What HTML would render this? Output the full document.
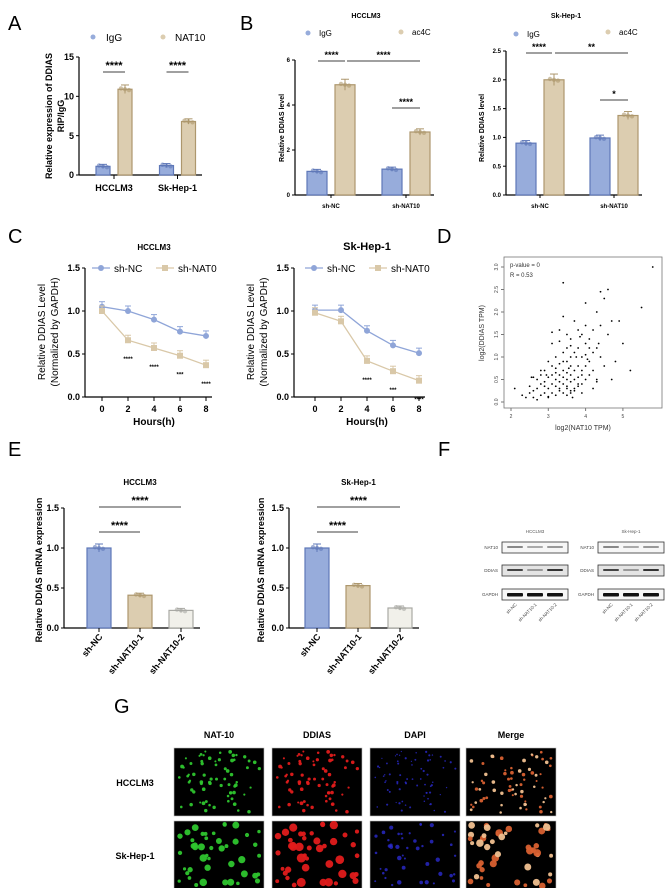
<!DOCTYPE html>
<html><head><meta charset="utf-8"><style>
body{margin:0;background:#fff}
svg{display:block;font-family:"Liberation Sans",Arial,sans-serif}
</style></head><body>
<svg id="fig" width="666" height="888" viewBox="0 0 666 888" xmlns="http://www.w3.org/2000/svg">
<rect width="666" height="888" fill="#fff"/>
<g font-size="20" fill="#000">
<text x="8" y="30">A</text>
<text x="240" y="30">B</text>
<text x="8" y="243">C</text>
<text x="437" y="243">D</text>
<text x="8" y="456">E</text>
<text x="438" y="456">F</text>
<text x="114" y="713">G</text>
</g>
<g id="root"></g>
</svg>
<script>
// ---- data ----
const aCats=['HCCLM3','Sk-Hep-1'];
const aIgG=[1.1,1.2];
const aNAT10=[10.9,6.8];
const aTicks=[0,5,10,15];
const bCats=['sh-NC','sh-NAT10'];
const bHIgG=[1.05,1.15];
const bHac4C=[4.9,2.8];
const bHTicks=[0,2,4,6];
const bSIgG=[0.9,0.99];
const bSac4C=[2.0,1.38];
const bSTicks=[0.0,0.5,1.0,1.5,2.0,2.5];
const cHours=[0,2,4,6,8];
const cHNC=[1.05,1.0,0.9,0.76,0.71];
const cHNAT=[1.0,0.66,0.57,0.48,0.37];
const cSNC=[1.01,1.01,0.77,0.60,0.51];
const cSNAT=[0.98,0.88,0.42,0.30,0.19];
const cTicks=[0.0,0.5,1.0,1.5];
const cHStars=['','****','****','***','****'];
const cSStars=['','','****','***','****'];
const dX=[2.1,2.3,2.4,2.5,2.5,2.6,2.6,2.7,2.7,2.8,2.8,2.8,2.9,2.9,2.9,3.0,3.0,3.0,3.0,3.1,3.1,3.1,3.1,3.2,3.2,3.2,3.2,3.2,3.3,3.3,3.3,3.3,3.3,3.4,3.4,3.4,3.4,3.4,3.4,3.5,3.5,3.5,3.5,3.5,3.5,3.6,3.6,3.6,3.6,3.6,3.6,3.7,3.7,3.7,3.7,3.7,3.8,3.8,3.8,3.8,3.8,3.9,3.9,3.9,3.9,4.0,4.0,4.0,4.0,4.1,4.1,4.1,4.2,4.2,4.2,4.3,4.3,4.3,4.4,4.4,4.5,4.5,4.6,4.6,4.7,4.8,4.9,5.0,5.2,5.5,5.8,2.6,2.9,3.1,3.3,3.5,3.7,3.9,4.1,3.2,3.4,3.6,3.8,4.0,3.0,2.7,3.5,3.9,4.4,4.2,3.6,3.3,3.1,2.8,4.0,4.3,4.7,3.4,2.95,3.55,3.75,4.05,4.35,2.55,3.85,3.65];
const dY=[0.3,0.15,0.1,0.2,0.35,0.1,0.25,0.3,0.5,0.15,0.4,0.6,0.2,0.35,0.7,0.1,0.3,0.55,0.9,0.2,0.4,0.6,1.3,0.15,0.35,0.5,0.75,1.0,0.25,0.45,0.6,0.85,1.6,0.2,0.4,0.55,0.7,1.1,2.65,0.3,0.5,0.65,0.9,1.2,1.5,0.25,0.45,0.6,0.8,1.0,1.4,0.3,0.5,0.7,1.1,1.8,0.35,0.55,0.8,1.2,1.6,0.4,0.7,1.0,1.5,0.5,0.8,1.3,1.7,0.6,0.9,1.4,0.7,1.1,1.6,0.5,1.2,2.0,1.0,2.45,0.8,2.3,1.5,2.5,1.8,0.9,1.8,1.3,0.7,2.1,3.0,0.55,0.45,0.8,0.3,0.35,0.25,0.6,1.2,0.65,0.9,1.25,0.4,1.05,0.12,0.05,0.15,0.2,1.7,0.3,0.2,1.35,1.55,0.7,2.2,0.45,0.5,1.9,0.6,0.75,1.0,0.95,1.3,0.55,1.45,0.1];
const dXTicks=[2,3,4,5];
const dYTicks=[0.0,0.5,1.0,1.5,2.0,2.5,3.0];
const eCats=['sh-NC','sh-NAT10-1','sh-NAT10-2'];
const eH=[1.0,0.41,0.22];
const eS=[1.0,0.53,0.25];
const eTicks=[0.0,0.5,1.0,1.5];

const NS='http://www.w3.org/2000/svg';
const root=document.getElementById('root');
function mk(tag,attrs,parent,text){const e=document.createElementNS(NS,tag);for(const k in attrs)e.setAttribute(k,attrs[k]);if(text!==undefined)e.textContent=text;(parent||root).appendChild(e);return e;}
const BLUE='#97acdb',BLUES='#5f78b8',TAN='#dccdb0',TANS='#ad976d',LIGHT='#f1f0ea',LIGHTS='#a9a9a4';

function yAxis(g,x,y0,y1,ticks,sc,fs,fmt){
  let l=mk('line',{x1:x,y1:y0,x2:x,y2:y1,stroke:'#000','stroke-width':1.2},g);
  
  
  ticks.forEach(t=>{const y=sc(t);
    mk('line',{x1:x-3,y1:y,x2:x,y2:y,stroke:'#000','stroke-width':1},g);
    let tx=mk('text',{x:x-5,y:y+fs*0.35,'text-anchor':'end','font-size':fs,'font-weight':'bold'},g,fmt(t));
    
    
  });
}
function bar(g,cx,w,v,sc,fill,stroke,name){
  const y0=sc(0),y=sc(v);
  let r=mk('rect',{x:cx-w/2,y:y,width:w,height:y0-y,fill:fill,stroke:stroke,'stroke-width':1.2},g);
  
  
  const e=Math.max(2,(y0-y)*0.05);
  mk('line',{x1:cx,y1:y-e,x2:cx,y2:y+e,stroke:stroke,'stroke-width':1},g);
  mk('line',{x1:cx-4,y1:y-e,x2:cx+4,y2:y-e,stroke:stroke,'stroke-width':1},g);
  [-4,0,4].forEach((d,i)=>mk('circle',{cx:cx+d,cy:y+(i-1)*0.8,r:2.2,fill:stroke,opacity:0.6},g));
}
function sig(g,x1,x2,y,label,fs){
  let l=mk('line',{x1:x1,y1:y,x2:x2,y2:y,stroke:'#000','stroke-width':0.8},g);
  
  
  let t=mk('text',{x:(x1+x2)/2,y:y-3,'text-anchor':'middle','font-size':fs,'font-weight':'bold'},g,label);
  
  
}
function txt(g,x,y,s,fs,opt,name){const a=Object.assign({x:x,y:y,'font-size':fs},opt||{});let t=mk('text',a,g,s);
  
  
  return t;}

// ---- Panel A ----
(function(){
  const g=mk('g',{});
  
  
  const sc=v=>175-v*118/15;
  yAxis(g,79,sc(15),175,aTicks,sc,9,t=>t);
  mk('line',{x1:79,y1:175,x2:202,y2:175,stroke:'#000','stroke-width':1.2},g);
  const centers=[114,177.5];
  aCats.forEach((c,i)=>{
    bar(g,centers[i]-11,14,aIgG[i],sc,BLUE,BLUES,'bar-igg-'+i);
    bar(g,centers[i]+11,14,aNAT10[i],sc,TAN,TANS,'bar-nat10-'+i);
    mk('line',{x1:centers[i],y1:175,x2:centers[i],y2:179,stroke:'#000'},g);
    txt(g,centers[i],191,c,9,{'text-anchor':'middle','font-weight':'bold'},'x-tick-label');
    sig(g,centers[i]-11,centers[i]+11,72,'****',11);
  });
  mk('circle',{cx:93,cy:37,r:2.5,fill:BLUE},g);
  txt(g,106,41,'IgG',10,{},'legend-igg');
  mk('circle',{cx:163,cy:37,r:2.5,fill:TAN},g);
  txt(g,175,41,'NAT10',10,{},'legend-nat10');
  txt(g,0,0,'Relative expression of DDIAS',9,{'text-anchor':'middle','font-weight':'bold',transform:'translate(52,116) rotate(-90)'},'y-axis-title');
  txt(g,0,0,'RIP/IgG',9,{'text-anchor':'middle','font-weight':'bold',transform:'translate(64,116) rotate(-90)'},'y-axis-title-line2');
})();

// ---- Panel B ----
function panelB(axX,sc,ticks,fmt,centers,igg,ac,title,titleX,legs,sigs,lblX){
  const g=mk('g',{});
  
  
  yAxis(g,axX,sc(ticks[ticks.length-1]),195,ticks,sc,6,fmt);
  mk('line',{x1:axX,y1:195,x2:centers[1]+28,y2:195,stroke:'#000','stroke-width':1.2},g);
  bCats.forEach((c,i)=>{
    bar(g,centers[i]-14,20,igg[i],sc,BLUE,BLUES,'bar-igg-'+c);
    bar(g,centers[i]+14,20,ac[i],sc,TAN,TANS,'bar-ac4c-'+c);
    mk('line',{x1:centers[i],y1:195,x2:centers[i],y2:198,stroke:'#000'},g);
    txt(g,centers[i],208,c,6,{'text-anchor':'middle','font-weight':'bold'},'x-tick-label');
  });
  txt(g,titleX,18,title,7,{'text-anchor':'middle','font-weight':'bold'},'chart-title');
  mk('circle',{cx:legs[0],cy:legs[1],r:2.5,fill:BLUE},g);
  txt(g,legs[0]+11,legs[1]+3,'IgG',8,{},'legend-igg');
  mk('circle',{cx:legs[2],cy:legs[3],r:2.5,fill:TAN},g);
  txt(g,legs[2]+11,legs[3]+3,'ac4C',8,{},'legend-ac4c');
  sigs.forEach(s=>sig(g,s[0],s[1],s[2],s[3],9));
  txt(g,0,0,'Relative DDIAS  level',7,{'text-anchor':'middle','font-weight':'bold',transform:'translate('+lblX+',128) rotate(-90)'},'y-axis-title');
}
panelB(295,v=>195-v*22.5,bHTicks,t=>t,[331,406],bHIgG,bHac4C,'HCCLM3',366,[308,33,401,32],
  [[318,345,61,'****'],[347,420,61,'****'],[392,420,108,'****']],284);
panelB(506,v=>195-v*57.6,bSTicks,t=>t.toFixed(1),[540,614],bSIgG,bSac4C,'Sk-Hep-1',566,[516,34,608,32],
  [[526,552,53,'****'],[555,628,53,'**'],[600,628,100,'*']],484);

// ---- Panel C ----
function panelC(axX,x0,title,tfs,nc,nat,stars,lblX){
  const g=mk('g',{});
  
  
  const sy=v=>397-v*86, sx=h=>x0+h*13;
  yAxis(g,axX,sy(1.5),397,cTicks,sy,9,t=>t.toFixed(1));
  mk('line',{x1:axX,y1:397,x2:sx(8)+6,y2:397,stroke:'#000','stroke-width':1.2},g);
  cHours.forEach(h=>{mk('line',{x1:sx(h),y1:397,x2:sx(h),y2:401,stroke:'#000'},g);
    txt(g,sx(h),412,String(h),9,{'text-anchor':'middle','font-weight':'bold'},'x-tick-label');});
  txt(g,(sx(0)+sx(8))/2,425,'Hours(h)',10,{'text-anchor':'middle','font-weight':'bold'},'x-axis-title');
  txt(g,(sx(0)+sx(8))/2,250,title,tfs,{'text-anchor':'middle','font-weight':'bold'},'chart-title');
  const line=(arr,col,name,sq)=>{
    let p=mk('polyline',{points:arr.map((v,i)=>sx(cHours[i])+','+sy(v)).join(' '),fill:'none',stroke:col,'stroke-width':1.3},g);
    
    
    arr.forEach((v,i)=>{
      mk('line',{x1:sx(cHours[i]),y1:sy(v)-5,x2:sx(cHours[i]),y2:sy(v),stroke:col},g);
      mk('line',{x1:sx(cHours[i])-3,y1:sy(v)-5,x2:sx(cHours[i])+3,y2:sy(v)-5,stroke:col},g);
      if(sq)mk('rect',{x:sx(cHours[i])-3,y:sy(v)-3,width:6,height:6,fill:col},g);
      else mk('circle',{cx:sx(cHours[i]),cy:sy(v),r:3,fill:col},g);
    });
  };
  line(nc,'#8fa5d8','line-sh-nc',false);
  line(nat,'#d9c8a8','line-sh-nat0',true);
  stars.forEach((s,i)=>{if(s)txt(g,sx(cHours[i]),sy(nat[i])+21,s,6,{'text-anchor':'middle','font-weight':'bold'},'significance-stars');});
  mk('line',{x1:sx(0)-10,y1:268,x2:sx(0)+8,y2:268,stroke:'#8fa5d8','stroke-width':1.3},g);
  mk('circle',{cx:sx(0)-1,cy:268,r:3,fill:'#8fa5d8'},g);
  txt(g,sx(0)+12,272,'sh-NC',10,{},'legend-sh-nc');
  mk('line',{x1:sx(4)+2,y1:268,x2:sx(4)+20,y2:268,stroke:'#d9c8a8','stroke-width':1.3},g);
  mk('rect',{x:sx(4)+8,y:265,width:6,height:6,fill:'#d9c8a8'},g);
  txt(g,sx(4)+24,272,'sh-NAT0',10,{},'legend-sh-nat0');
  txt(g,0,0,'Relative DDIAS Level',10,{'text-anchor':'middle',transform:'translate('+lblX+',332) rotate(-90)'},'y-axis-title');
  txt(g,0,0,'(Normalized by GAPDH)',10,{'text-anchor':'middle',transform:'translate('+(lblX+13)+',332) rotate(-90)'},'y-axis-title-line2');
}
panelC(85,102,'HCCLM3',8,cHNC,cHNAT,cHStars,45);
panelC(294,315,'Sk-Hep-1',11,cSNC,cSNAT,cSStars,254);

// ---- Panel D ----
(function(){
  const g=mk('g',{});
  
  
  const sx=v=>511+(v-2)*37.3, sy=v=>402-v*45;
  let box=mk('rect',{x:504,y:257,width:158,height:151,fill:'none',stroke:'#777','stroke-width':0.8},g);
  
  
  dXTicks.forEach(t=>{mk('line',{x1:sx(t),y1:408,x2:sx(t),y2:411,stroke:'#777'},g);
    txt(g,sx(t),418,String(t),5,{'text-anchor':'middle',fill:'#444'},'x-tick-label');});
  dYTicks.forEach(t=>{mk('line',{x1:501,y1:sy(t),x2:504,y2:sy(t),stroke:'#777'},g);
    txt(g,0,0,t.toFixed(1),5,{'text-anchor':'middle',fill:'#444',transform:'translate(498,'+sy(t)+') rotate(-90)'},'y-tick-label');});
  dX.forEach((x,i)=>{let c=mk('circle',{cx:sx(x),cy:sy(dY[i]),r:0.9,fill:'#000'},g);
    
    });
  txt(g,510,267,'p-value = 0',6,{fill:'#333'},'p-value-label');
  txt(g,510,277,'R = 0.53',6,{fill:'#333'},'r-label');
  txt(g,583,430,'log2(NAT10 TPM)',7,{'text-anchor':'middle',fill:'#333'},'x-axis-title');
  txt(g,0,0,'log2(DDIAS TPM)',7,{'text-anchor':'middle',fill:'#333',transform:'translate(484,333) rotate(-90)'},'y-axis-title');
})();

// ---- Panel E ----
function panelE(axX,centers,vals,title,lblX){
  const g=mk('g',{});
  
  
  const sy=v=>628-v*80;
  yAxis(g,axX,sy(1.5),628,eTicks,sy,9,t=>t.toFixed(1));
  mk('line',{x1:axX,y1:628,x2:centers[2]+19,y2:628,stroke:'#000','stroke-width':1.2},g);
  const fills=[[BLUE,BLUES],[TAN,TANS],[LIGHT,LIGHTS]];
  eCats.forEach((c,i)=>{
    bar(g,centers[i],24,vals[i],sy,fills[i][0],fills[i][1],'bar-'+c);
    mk('line',{x1:centers[i],y1:628,x2:centers[i],y2:632,stroke:'#000'},g);
    txt(g,0,0,c,9,{'text-anchor':'end','font-weight':'bold',transform:'translate('+(centers[i]+4)+',637) rotate(-50)'},'x-tick-label');
  });
  sig(g,centers[0],centers[1],532,'****',11);
  sig(g,centers[0],centers[2],507,'****',11);
  txt(g,(centers[0]+centers[2])/2,485,title,8,{'text-anchor':'middle','font-weight':'bold'},'chart-title');
  txt(g,0,0,'Relative DDIAS mRNA expression',9,{'text-anchor':'middle','font-weight':'bold',transform:'translate('+lblX+',570) rotate(-90)'},'y-axis-title');
}
panelE(64,[99,140,181],eH,'HCCLM3',42);
panelE(289,[317,358,400],eS,'Sk-Hep-1',264);

// ---- Panel F (western blots) ----
function blot(x0,title,strength){
  const g=mk('g',{});
  
  
  txt(g,x0+33,533,title,4.5,{'text-anchor':'middle',fill:'#555'},'blot-title');
  const rows=[['NAT10',542],['DDIAS',565],['GAPDH',589]];
  rows.forEach((r,ri)=>{
    txt(g,x0-4,r[1]+7,r[0],4.5,{'text-anchor':'end',fill:'#444'},'blot-row-label');
    let b=mk('rect',{x:x0,y:r[1],width:66,height:11,fill:ri==1?'#e4e4e4':'#f6f6f6',stroke:'#333','stroke-width':0.8},g);
    
    
    for(let l=0;l<3;l++){
      const col=ri==2?'#111':(ri==1?['#444','#999','#333'][l]:['#888','#aaa','#999'][l]);
      mk('rect',{x:x0+5+l*20,y:r[1]+4,width:16,height:ri==2?3.5:2,fill:col,rx:1},g);
    }
  });
  ['sh-NC','sh-NAT10-1','sh-NAT10-2'].forEach((s,l)=>txt(g,0,0,s,4.5,{'text-anchor':'end',fill:'#444',transform:'translate('+(x0+15+l*20)+',605) rotate(-45)'},'blot-lane-label'));
}
blot(502,'HCCLM3');
blot(598,'Sk-Hep-1');

// ---- Panel G (fluorescence) ----
(function(){
  const g=mk('g',{});
  
  
  const cols=[[174,'NAT-10','#2ec52e'],[272,'DDIAS','#e01b1b'],[370,'DAPI','#2a2ad0'],[466,'Merge','#e8a060']];
  const rows=[[748,'HCCLM3',0.9],[821,'Sk-Hep-1',2.3]];
  cols.forEach(c=>txt(g,c[0]+45,738,c[1],9,{'text-anchor':'middle','font-weight':'bold'},'column-header'));
  let seed=7; const rnd=()=>{seed=(seed*1103515245+12345)%2147483648;return seed/2147483648;};
  rows.forEach((r,ri)=>{
    txt(g,135,r[0]+38,r[1],9,{'text-anchor':'middle','font-weight':'bold'},'row-label');
    cols.forEach((c,ci)=>{
      let im=mk('rect',{x:c[0],y:r[0],width:90,height:68,fill:'#000',stroke:'#bbb','stroke-width':0.6},g);
      
      
      seed=11+ri*5;
      const n=ri?45:70;
      for(let k=0;k<n;k++){
        const px=c[0]+4+rnd()*82, py=r[0]+3+rnd()*62, rr=(ri?1.6:1.0)+rnd()*r[2];
        let col=c[2];
        if(ci==3)col=rnd()>0.5?'#f0c090':'#d86030';
        if(ci==2)col='#2a2ad0';
        mk('circle',{cx:px,cy:py,r:ci==2?rr*0.6:(ci==1&&ri?rr*1.2:rr),fill:col,opacity:ci==2?0.8:0.95},g);
      }
    });
  });
})();
</script>
</body></html>
